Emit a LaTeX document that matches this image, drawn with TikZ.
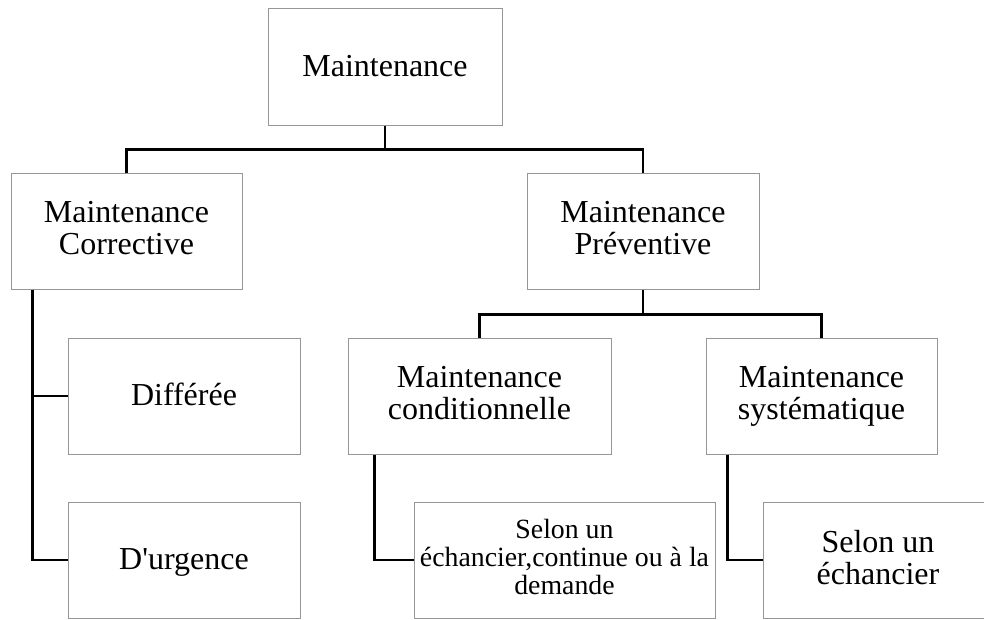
\documentclass[tikz,border=0pt]{standalone}
\usepackage{fontspec}
\setmainfont{Liberation Serif}[Ligatures=TeXOff]
\usetikzlibrary{calc}
\definecolor{boxgray}{RGB}{150,150,150}
\newcommand{\boxstrut}{\rule[-6pt]{0pt}{31pt}}
\begin{document}
\begin{tikzpicture}[x=1pt,y=-1pt,
    box/.style={draw=boxgray,line width=1pt,minimum width=232pt,minimum height=116pt,
      inner sep=0pt,align=center,font=\fontsize{32}{32}\selectfont,
      execute at begin node=\boxstrut,execute at end node=\boxstrut},
    smalltext/.style={font=\fontsize{27.8}{27.8}\selectfont},
    link/.style={line width=2.6pt}]
    \clip (0,0) rectangle (984,619);
    % Boxes
    \node[box,minimum width=234pt,minimum height=117pt] (maint) at (385,66.5) {Maintenance};
    \node[box,minimum width=231pt] (corr) at (126.5,231) {Maintenance\\Corrective};
    \node[box] (prev) at (643,231) {Maintenance\\Préventive};
    \node[box] (diff) at (184,396) {Différée};
    \node[box] (urg) at (184,560) {D'urgence};
    \node[box,minimum width=263pt] (cond) at (479.5,396) {Maintenance\\conditionnelle};
    \node[box,minimum width=231pt] (syst) at (821.5,396) {Maintenance\\systématique};
    \node[box,smalltext,minimum width=301pt] (dem) at (564.5,560) {Selon un\\échancier,continue ou à la\\demande};
    \node[box,minimum width=230pt] (ech) at (878,560) {Selon un\\échancier};
    % Links
    \draw[link] (maint.south) -- ++(0,24) coordinate (top);
    \draw[link] (corr.north) |- (top) -| (prev.north);
    \draw[link] (prev.south) -- ++(0,25) coordinate (mid);
    \draw[link] (cond.north) |- (mid) -| (syst.north);
    \foreach \n in {diff,urg}
        \draw[link] ($(corr.south west)+(22,0)$) |- (\n.west);
    \draw[link] ($(cond.south west)+(27,0)$) |- (dem.west);
    \draw[link] ($(syst.south west)+(22,0)$) |- (ech.west);
\end{tikzpicture}
\end{document}
